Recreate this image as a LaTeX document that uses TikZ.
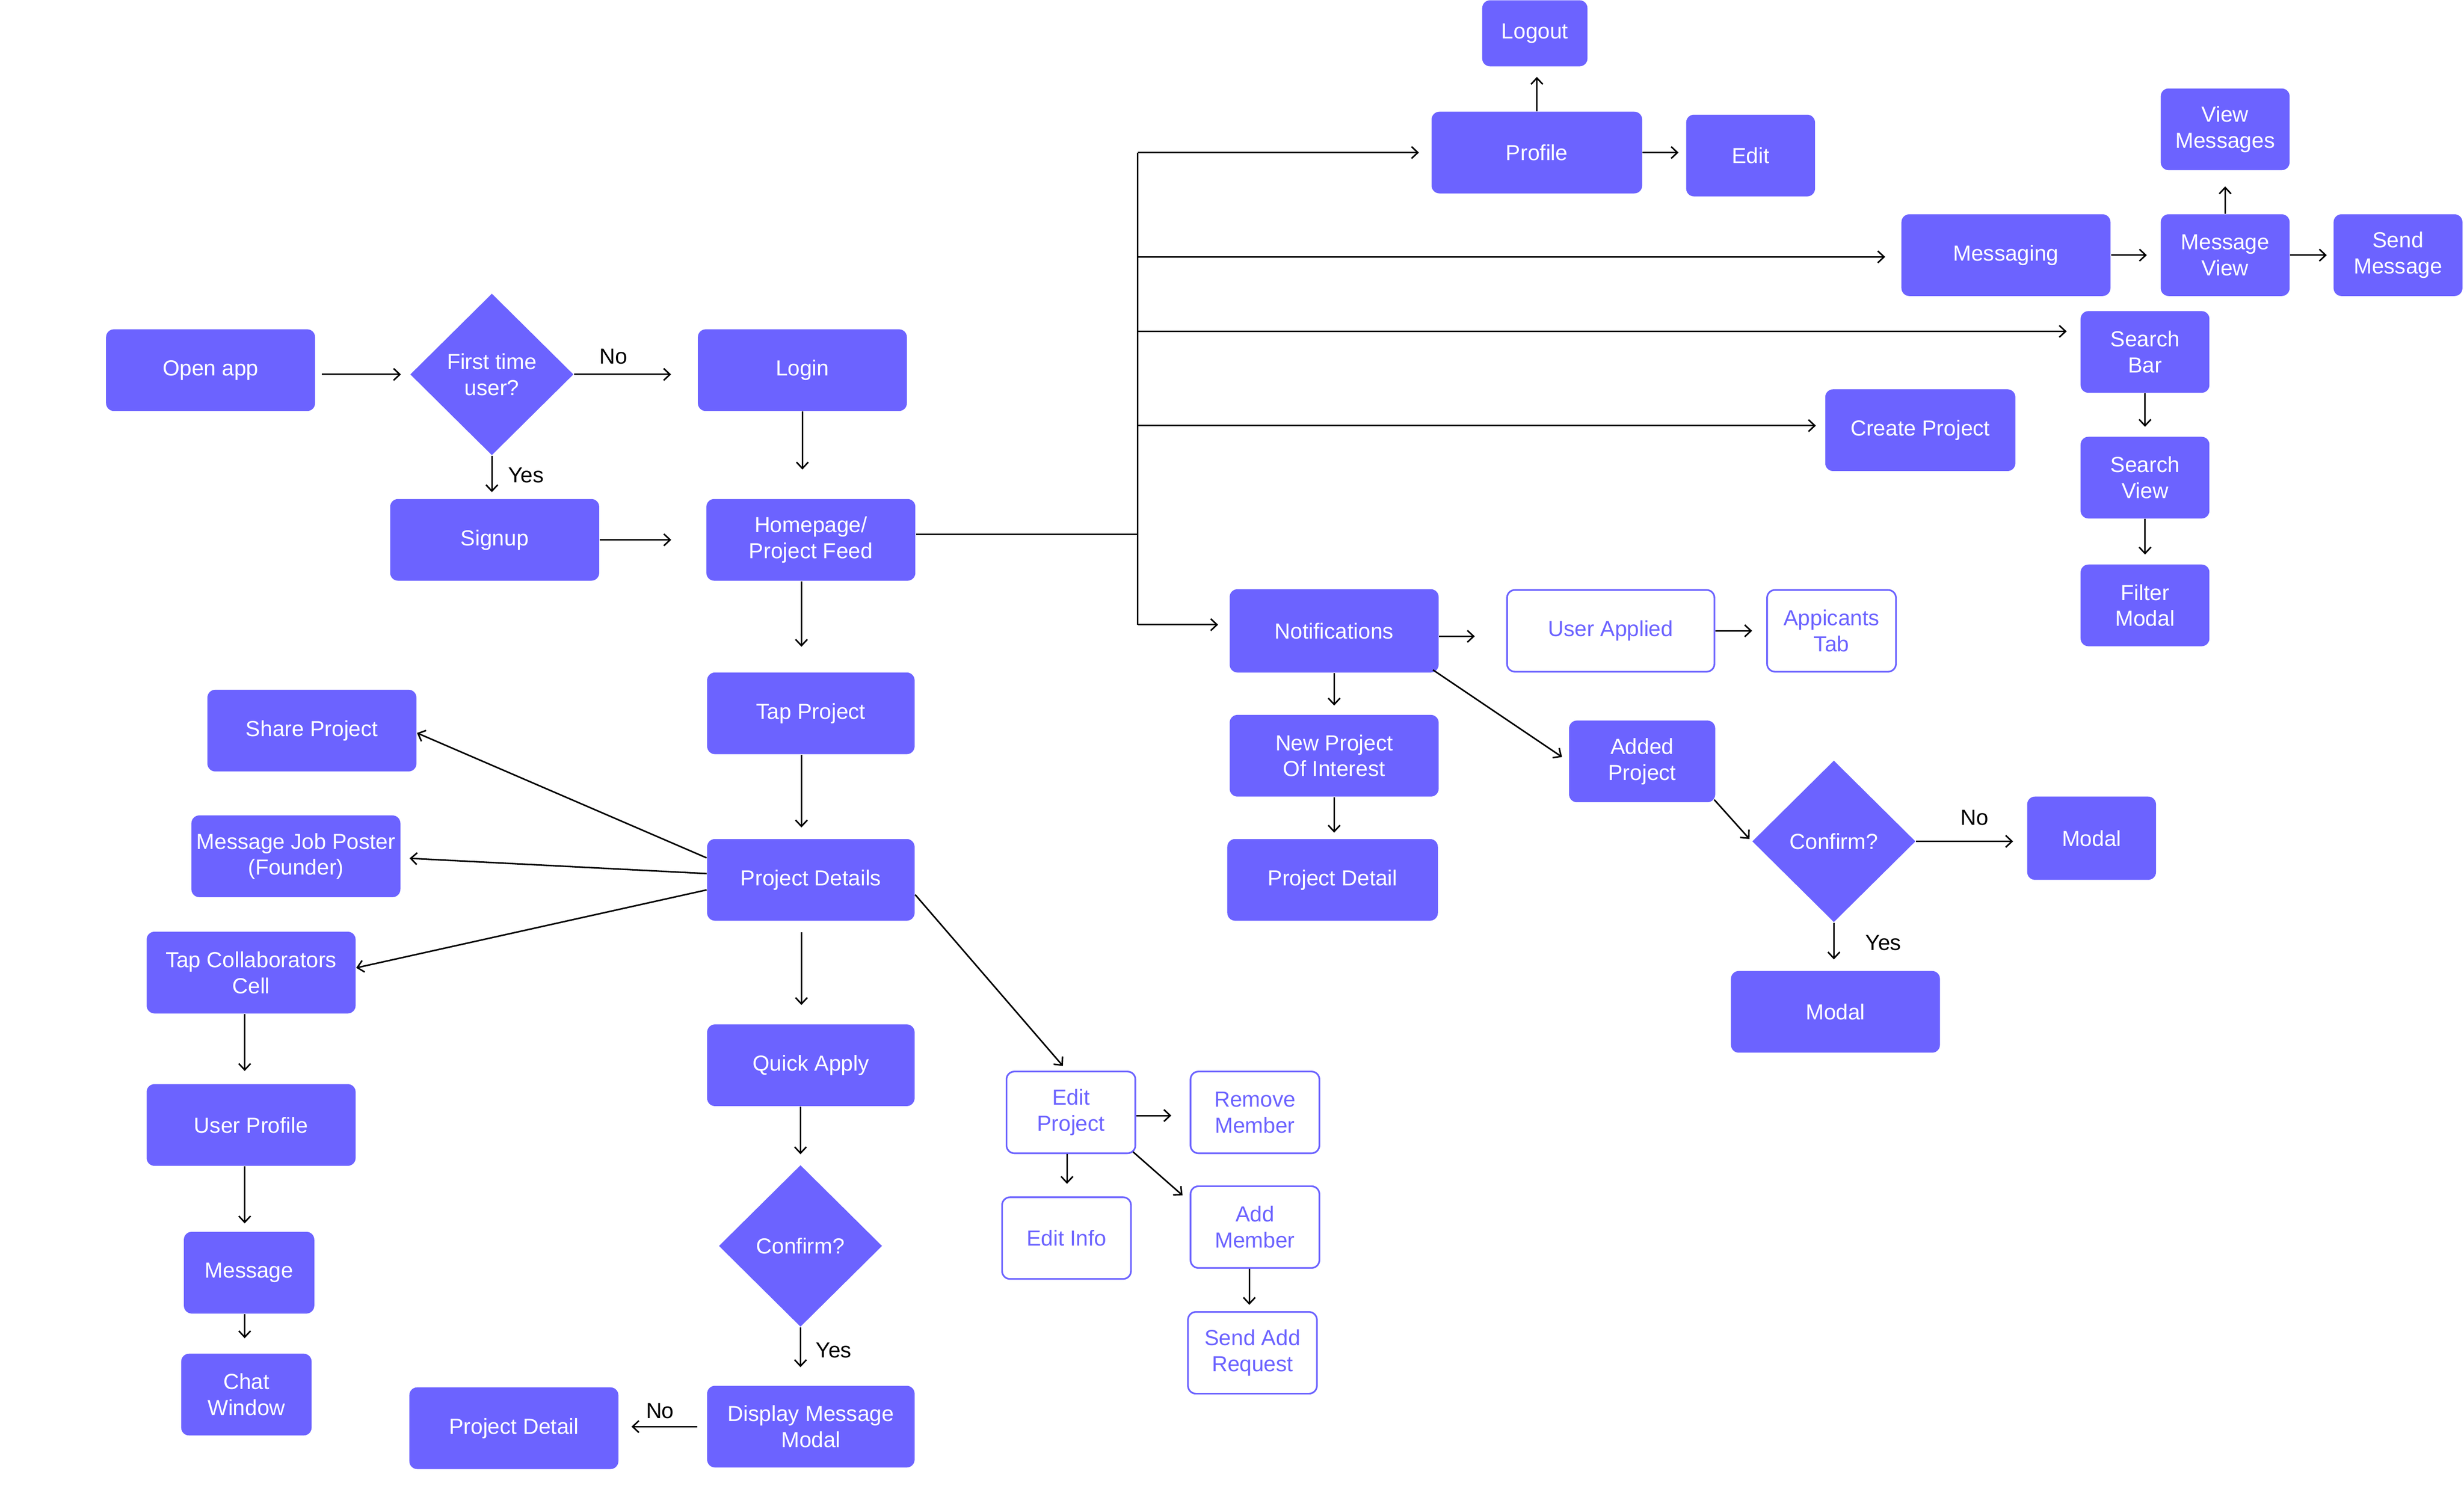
\documentclass[tikz,border=0pt]{standalone}
\usepackage{fontspec}
\setmainfont{Liberation Sans}
\usetikzlibrary{shapes.geometric,arrows.meta,calc}
\definecolor{pp}{RGB}{108,99,255}
\newcommand\myfont{\fontsize{7.9}{9.4}\selectfont}
\tikzset{
  box/.style={rectangle, rounded corners=0.1cm, fill=pp, text=white, align=center, inner sep=0pt, font=\myfont},
  obox/.style={box, fill=white, draw=pp, line width=0.6pt, text=pp},
  dia/.style={diamond, fill=pp, text=white, align=center, inner sep=0pt, minimum width=104*0.02cm, minimum height=103*0.02cm, font=\myfont},
  sz/.style 2 args={minimum width=#1*0.02cm, minimum height=#2*0.02cm},
  arr/.style={draw, line width=0.55pt, -{Straight Barb[length=0.8mm,width=1.5mm]}},
  ln/.style={draw, line width=0.55pt},
  gs/.style={shorten <=#1*0.02cm},
  ge/.style={shorten >=#1*0.02cm},
  lab/.style={font=\myfont, text=black, inner sep=0pt},
}
\begin{document}
\begin{tikzpicture}[x=0.02cm,y=-0.02cm]
\fill[white] (0,0) rectangle (1568,947.5);
\useasboundingbox (0,0) rectangle (1568,947.5);

% left start
\node[box, sz={133}{52}] (open) at (134,235.6) {Open app};
\node[dia] (first) at (313,238.3) {First time\\user?};
\node[box, sz={133}{52}] (login) at (510.6,235.6) {Login};
\node[box, sz={133}{52}] (signup) at (314.8,343.6) {Signup};
\node[box, sz={133}{52}] (home) at (516,343.6) {Homepage/\\Project Feed};
\node[box, sz={132}{52}] (tap) at (516,454) {Tap Project};
\node[box, sz={132}{52}] (details) at (516,560) {Project Details};
\node[box, sz={132}{52}] (quick) at (516,678) {Quick Apply};
\node[dia] (conf1) at (509.4,793) {Confirm?};
\node[box, sz={132}{52}] (display) at (516,908) {Display Message\\Modal};
\node[box, sz={133}{52}] (pdleft) at (327,909) {Project Detail};

% left column
\node[box, sz={133}{52}] (share) at (198.5,465) {Share Project};
\node[box, sz={133}{52}] (msgjob) at (188.3,545) {Message Job Poster\\(Founder)};
\node[box, sz={133}{52}] (collab) at (159.8,619) {Tap Collaborators\\Cell};
\node[box, sz={133}{52}] (uprofile) at (159.8,716) {User Profile};
\node[box, sz={83}{52}] (message) at (158.5,810) {Message};
\node[box, sz={83}{52}] (chat) at (156.8,887.6) {Chat\\Window};

% edit project group
\node[obox, sz={82}{52}] (editp) at (681.5,708) {Edit\\Project};
\node[obox, sz={82}{52}] (remove) at (798.6,708) {Remove\\Member};
\node[obox, sz={82}{52}] (editinfo) at (678.7,788) {Edit Info};
\node[obox, sz={82}{52}] (addm) at (798.6,781) {Add\\Member};
\node[obox, sz={82}{52}] (sendadd) at (797,861) {Send Add\\Request};

% top right
\node[box, sz={134}{52}] (profile) at (978,97.1) {Profile};
\node[box, sz={67}{42}] (logout) at (976.7,21.2) {Logout};
\node[box, sz={82}{52}] (edit) at (1114,99) {Edit};
\node[box, sz={133}{52}] (messaging) at (1276.5,162.4) {Messaging};
\node[box, sz={82}{52}] (msgview) at (1416,162.4) {Message\\View};
\node[box, sz={82}{52}] (viewmsgs) at (1416,82.3) {View\\Messages};
\node[box, sz={82}{52}] (send) at (1526,162.4) {Send\\Message};
\node[box, sz={82}{52}] (sbar) at (1365,224) {Search\\Bar};
\node[box, sz={121}{52}] (cproj) at (1222,273.8) {Create Project};
\node[box, sz={82}{52}] (sview) at (1365,304) {Search\\View};
\node[box, sz={82}{52}] (filter) at (1365,385.3) {Filter\\Modal};

% notifications group
\node[box, sz={133}{53}] (notif) at (849,401.5) {Notifications};
\node[obox, sz={132}{52}] (uapplied) at (1025,401.5) {User Applied};
\node[obox, sz={82}{52}] (atab) at (1165.5,401.5) {Appicants\\Tab};
\node[box, sz={133}{52}] (newproj) at (849,481) {New Project\\Of Interest};
\node[box, sz={134}{52}] (pdright) at (848,560) {Project Detail};
\node[box, sz={93}{52}] (added) at (1045,484.6) {Added\\Project};
\node[dia] (conf2) at (1167,535.5) {Confirm?};
\node[box, sz={82}{53}] (modalno) at (1331,533.5) {Modal};
\node[box, sz={133}{52}] (modalyes) at (1168,644) {Modal};

% labels
\node[lab] (no1) at (390.5,227) {No};
\node[lab] (yes1) at (334.7,302.5) {Yes};
\node[lab] (no2) at (1256.6,520.5) {No};
\node[lab] (yes2) at (1198.5,600) {Yes};
\node[lab] (yes3) at (530.5,859.5) {Yes};
\node[lab] (no3) at (420,898) {No};

% helper coordinates
\coordinate (cM) at (510,0);
\coordinate (cL) at (155.7,0);
\coordinate (cE) at (679,0);
\coordinate (cA) at (795,0);
\coordinate (tH) at (724,340);
\coordinate (tP) at (724,97.1);
\coordinate (tM) at (724,163.5);
\coordinate (tS) at (724,210.9);
\coordinate (tC) at (724,270.9);
\coordinate (tN) at (724,397.6);

% start connectors
\draw[arr, gs=4, ge=5.5] (open.east |- first) -- (first.west);
\draw[arr, ge=16.7] (first.east) -- (first.east -| login.west);
\draw[arr, ge=4] (first.south) -- (first.south |- signup.north);
\draw[arr, ge=18.4] (login.south) -- (login.south |- home.north);
\draw[arr, ge=22] (signup.east) -- (signup.east -| home.west);

% trunk
\draw[ln] (home.east |- tH) -- (tH);
\draw[ln] (tP) -- (tN);
\draw[arr, ge=7.7] (tP) -- (profile.west);
\draw[arr, ge=10] (tM) -- (tM -| messaging.west);
\draw[arr, ge=8.5] (tS) -- (tS -| sbar.west);
\draw[arr, ge=5.6] (tC) -- (tC -| cproj.west);
\draw[arr, ge=7] (tN) -- (tN -| notif.west);

% top right connectors
\draw[arr, ge=6.4] (profile.north) -- (profile.north |- logout.south);
\draw[arr, ge=4.5] (profile.east) -- (profile.east -| edit.west);
\draw[arr, ge=8.5] (messaging.east) -- (msgview.west);
\draw[arr, ge=10] (msgview.north) -- (viewmsgs.south);
\draw[arr, ge=4] (msgview.east) -- (send.west);
\draw[arr, ge=6] (sbar.south) -- (sview.north);
\draw[arr, ge=6] (sview.south) -- (filter.north);

% notifications connectors
\coordinate (nE) at ($(notif.east)+(0,3.5)$);
\draw[arr, ge=20] (nE) -- (nE -| uapplied.west);
\draw[arr, ge=9] (uapplied.east) -- (atab.west);
\draw[arr, ge=5.6] (notif.south) -- (newproj.north);
\draw[arr, ge=3.7] (newproj.south) -- (newproj.south |- pdright.north);
\draw[arr, ge=5] ($(notif.south east)+(-4,-2)$) -- (added.west);
\draw[arr, ge=2] ($(added.south east)+(-1,-2)$) -- (conf2.west);
\draw[arr, ge=8.6] (conf2.east) -- (conf2.east -| modalno.west);
\draw[arr, ge=7] (conf2.south) -- (conf2.south |- modalyes.north);

% middle column
\draw[arr, ge=16] (cM |- home.south) -- (cM |- tap.north);
\draw[arr, ge=7] (cM |- tap.south) -- (cM |- details.north);
\draw[arr, gs=7, ge=12] (cM |- details.south) -- (cM |- quick.north);
\draw[arr, ge=6.5] (quick.south -| conf1.north) -- (conf1.north);
\draw[arr, ge=11.5] (conf1.south) -- (conf1.south |- display.north);
\draw[arr, gs=6, ge=8] (display.west) -- (display.west -| pdleft.east);

% details fan-out
\draw[arr] ($(details.west)+(0,-14)$) -- ($(share.east)+(0,1.5)$);
\draw[arr, ge=5.5] ($(details.west)+(0,-4)$) -- ($(msgjob.east)+(0,1)$);
\draw[arr] ($(details.west)+(0,6.4)$) -- ($(collab.east)+(0,-3)$);
\draw[arr, ge=4] ($(details.east)+(0,9.4)$) -- ($(editp.north)+(-2.5,0)$);

% left column connectors
\draw[arr, ge=8] (cL |- collab.south) -- (cL |- uprofile.north);
\draw[arr, ge=5] (cL |- uprofile.south) -- (cL |- message.north);
\draw[arr, ge=9.5] (cL |- message.south) -- (cL |- chat.north);

% edit project connectors
\draw[arr, ge=11.7] ($(editp.east)+(0,2)$) -- ($(remove.west)+(0,2)$);
\draw[arr, ge=8] (cE |- editp.south) -- (cE |- editinfo.north);
\draw[arr, ge=1] ($(editp.south east)+(-2,-1.4)$) -- ($(addm.north west)+(-3.8,7)$);
\draw[arr, ge=4] (cA |- addm.south) -- (cA |- sendadd.north);
\end{tikzpicture}
\end{document}
